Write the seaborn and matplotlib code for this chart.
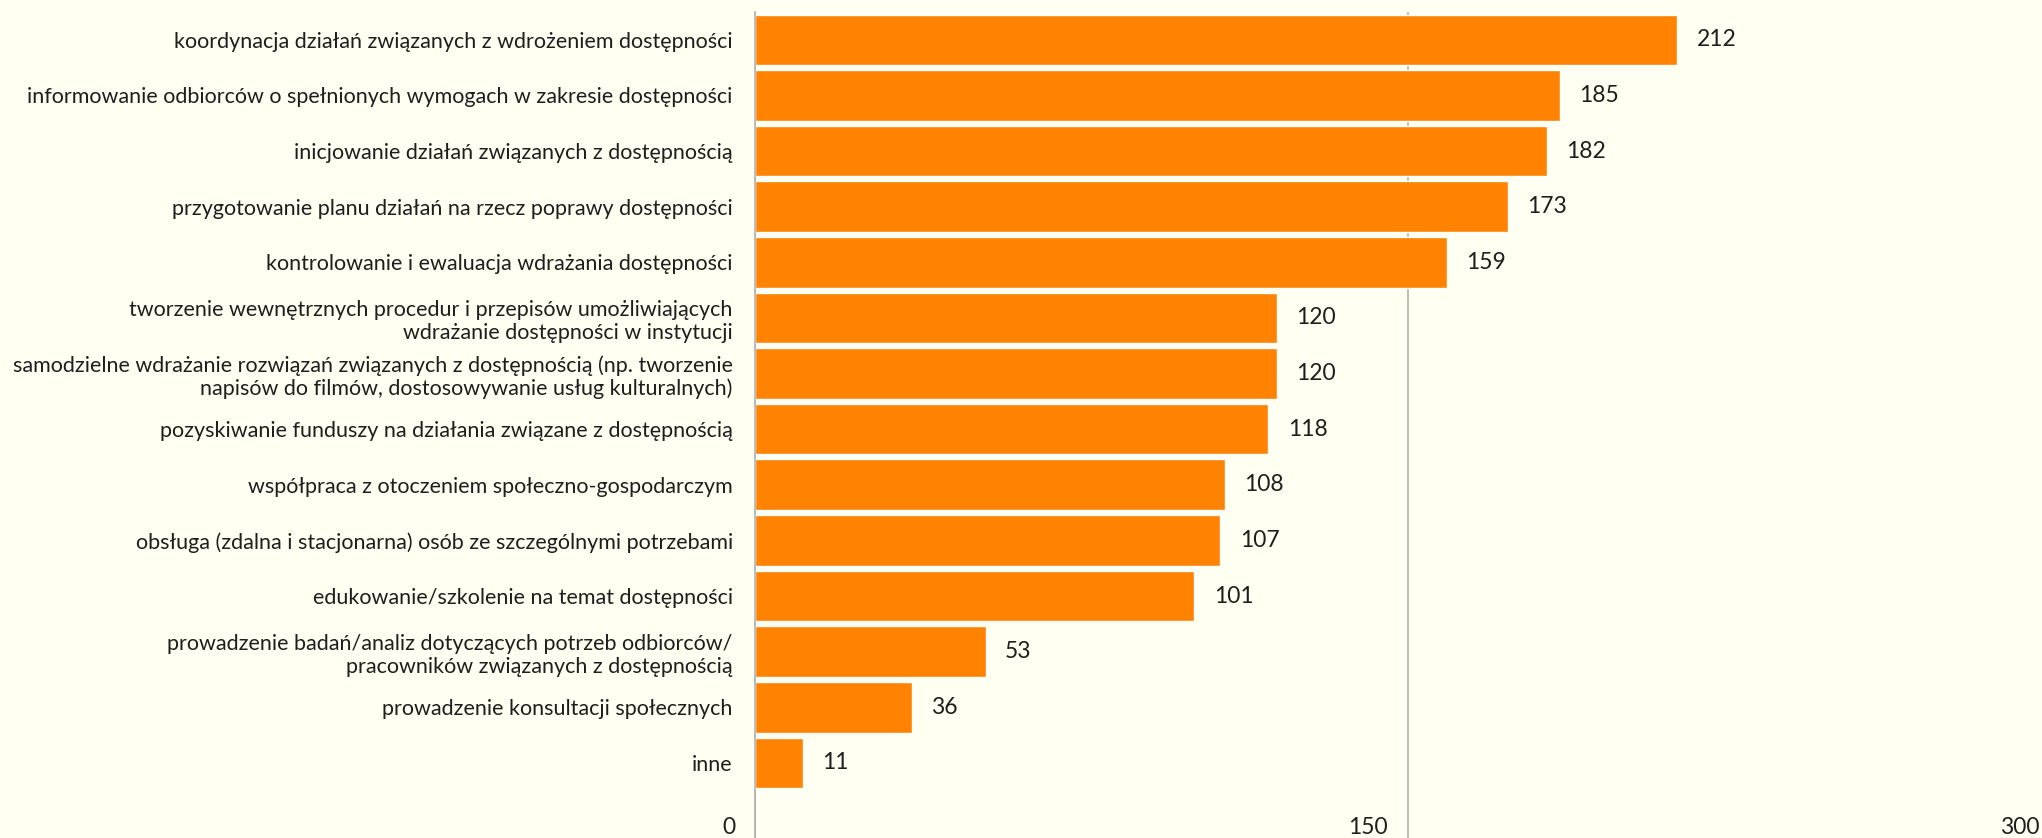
import matplotlib
matplotlib.use("Agg")
import matplotlib.pyplot as plt
import matplotlib.transforms as mtransforms
import seaborn as sns
import pandas as pd

# Activities and number of responses
activities = [
    "koordynacja działań związanych z wdrożeniem dostępności",
    "informowanie odbiorców o spełnionych wymogach w zakresie dostępności",
    "inicjowanie działań związanych z dostępnością",
    "przygotowanie planu działań na rzecz poprawy dostępności",
    "kontrolowanie i ewaluacja wdrażania dostępności",
    "tworzenie wewnętrznych procedur i przepisów umożliwiających\nwdrażanie dostępności w instytucji",
    "samodzielne wdrażanie rozwiązań związanych z dostępnością (np. tworzenie\nnapisów do filmów, dostosowywanie usług kulturalnych)",
    "pozyskiwanie funduszy na działania związane z dostępnością",
    "współpraca z otoczeniem społeczno-gospodarczym",
    "obsługa (zdalna i stacjonarna) osób ze szczególnymi potrzebami",
    "edukowanie/szkolenie na temat dostępności",
    "prowadzenie badań/analiz dotyczących potrzeb odbiorców/\npracowników związanych z dostępnością",
    "prowadzenie konsultacji społecznych",
    "inne",
]
counts = [212, 185, 182, 173, 159, 120, 120, 118, 108, 107, 101, 53, 36, 11]
x_ticks = [0, 150, 300]

BG = "#FFFFF2"
BAR = "#FF8200"
GRID = "#ABABAB"
TEXT = "#1E1E1E"

sns.set_theme(style="white")
plt.rcParams["font.family"] = ["Lato", "DejaVu Sans"]
plt.rcParams["text.color"] = TEXT

df = pd.DataFrame({"activity": activities, "count": counts})

W, H, DPI = 2042, 838, 100
fig = plt.figure(figsize=(W / DPI, H / DPI), dpi=DPI, facecolor=BG)
ax = fig.add_axes([755 / W, 0.0, (2060 - 755) / W, 826 / H])
ax.set_facecolor(BG)

sns.barplot(data=df, x="count", y="activity", orient="h", color=BAR,
            width=0.91, saturation=1, ax=ax, zorder=3)

ax.set_xlim(0, 300)
ax.set_ylim(14.35, -0.5)
ax.set_xlabel("")
ax.set_ylabel("")

# value labels next to bar ends
for cont in ax.containers:
    ax.bar_label(cont, labels=[str(v) for v in counts], padding=14,
                 fontsize=16.5, color=TEXT)

# vertical reference lines
ax.set_xticks(x_ticks)
ax.xaxis.grid(True, color=GRID, linewidth=1.1, zorder=0)
ax.yaxis.grid(False)
for side in ["top", "right", "bottom"]:
    ax.spines[side].set_visible(False)
ax.spines["left"].set_color(GRID)
ax.spines["left"].set_linewidth(1.1)
ax.spines["left"].set_zorder(4)

# category labels
ax.tick_params(axis="y", length=0, pad=16, labelsize=15.5, labelcolor=TEXT)

# x tick labels sit inside the plot at the bottom, left of each line
ax.tick_params(axis="x", length=0, pad=-3, labelsize=16.5, labelcolor=TEXT)
shift = mtransforms.ScaledTranslation(-20 / DPI, 0, fig.dpi_scale_trans)
for lab in ax.get_xticklabels():
    lab.set_horizontalalignment("right")
    lab.set_verticalalignment("baseline")
    lab.set_transform(lab.get_transform() + shift)

fig.savefig("out.png", dpi=DPI, facecolor=BG)
